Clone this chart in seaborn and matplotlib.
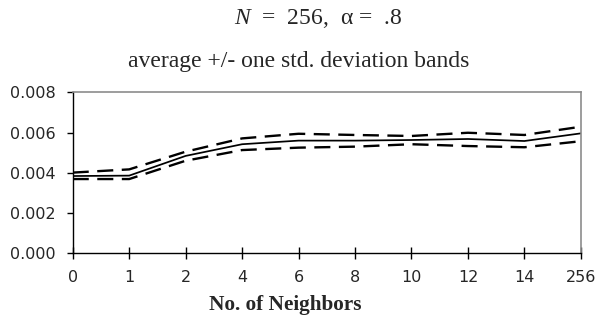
import matplotlib
matplotlib.use("Agg")
import matplotlib.pyplot as plt
import seaborn as sns
import pandas as pd

# Neighbourhood sizes (categorical axis) and the error statistics per size
neighbors = ["0", "1", "2", "4", "6", "8", "10", "12", "14", "256"]
mean_vals = [0.00384, 0.00386, 0.00484, 0.00542, 0.00560, 0.00560, 0.00563, 0.00568, 0.00558, 0.00596]
upper_vals = [0.00401, 0.00417, 0.00505, 0.00571, 0.00594, 0.00588, 0.00583, 0.00599, 0.00588, 0.00629]
lower_vals = [0.00369, 0.00369, 0.00460, 0.00513, 0.00525, 0.00530, 0.00542, 0.00533, 0.00527, 0.00557]
y_ticks = [0.000, 0.002, 0.004, 0.006, 0.008]

sns.set_theme(style="white")
plt.rcParams["font.family"] = ["DejaVu Sans"]
plt.rcParams["mathtext.fontset"] = "custom"
plt.rcParams["mathtext.it"] = "Liberation Serif:italic"
plt.rcParams["mathtext.rm"] = "Liberation Serif"

pos = list(range(len(neighbors)))
df = pd.DataFrame({
    "pos": pos * 3,
    "value": mean_vals + upper_vals + lower_vals,
    "series": ["mean"] * len(pos) + ["upper"] * len(pos) + ["lower"] * len(pos),
})

fig = plt.figure(figsize=(5.97, 3.23), dpi=100)
ax = fig.add_axes([0.1218, 0.2158, 0.973 - 0.1218, 0.7142 - 0.2158])

sns.lineplot(data=df[df.series == "mean"], x="pos", y="value", ax=ax,
             color="black", linewidth=1.25, legend=False)
for s in ["upper", "lower"]:
    sns.lineplot(data=df[df.series == s], x="pos", y="value", ax=ax,
                 color="black", linewidth=1.7, legend=False,
                 linestyle=(0, (6.8, 3.6)))

ax.set_xlim(0, len(neighbors) - 1)
ax.set_ylim(0, 0.008)
ax.set_xticks(pos)
ax.set_xticklabels(neighbors)
ax.set_yticks(y_ticks)
ax.set_yticklabels([f"{v:.3f}" for v in y_ticks])

for side in ["top", "right"]:
    ax.spines[side].set_color("#8c8c8c")
    ax.spines[side].set_linewidth(1.2)
for side in ["left", "bottom"]:
    ax.spines[side].set_color("black")
    ax.spines[side].set_linewidth(1.0)

ax.tick_params(axis="x", direction="inout", length=9, width=1.0, color="black",
               pad=7.5, labelsize=11.5, bottom=True)
ax.tick_params(axis="y", direction="out", length=4.3, width=1.0, color="black",
               pad=8, labelsize=11.5, left=True)

ax.set_xlabel("No. of Neighbors", family="Liberation Serif", fontweight="bold",
              fontsize=15.3, va="center", ha="center")
ax.xaxis.set_label_coords((285 - 72.7) / (581 - 72.7), (253.3 - 305) / 161)
ax.set_ylabel("")

fig.text(318 / 597, 1 - 18 / 323, r"$\mathit{N}$  =  256,  α =  .8",
         family="Liberation Serif", fontsize=17, ha="center", va="center")
fig.text(299 / 597, 1 - 61 / 323, "average +/- one std. deviation bands",
         family="Liberation Serif", fontsize=17, ha="center", va="center")

fig.savefig("out.png", dpi=100)
